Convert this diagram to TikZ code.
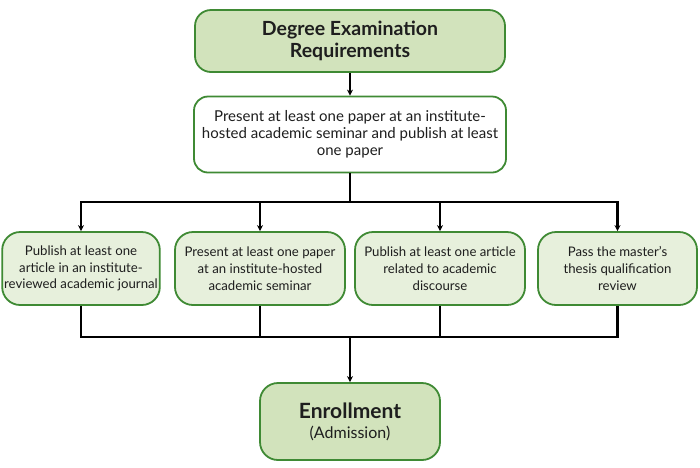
\documentclass[tikz,border=0pt]{standalone}
\usepackage{fontspec}
\setmainfont{Lato}
\usetikzlibrary{arrows.meta}
\definecolor{bordergreen}{HTML}{3F8A34}
\definecolor{darkfill}{HTML}{D2E3BC}
\definecolor{lightfill}{HTML}{E7F0DC}
\definecolor{txt}{HTML}{1E1E1E}
\tikzset{
  box/.style={draw=bordergreen, line width=1.8pt, rounded corners=16pt, align=center, text=txt, inner sep=2pt},
  titlebox/.style={box, fill=darkfill, font=\fontsize{19.5}{22}\selectfont\bfseries},
  midbox/.style={box, fill=white, rounded corners=14pt, font=\fontsize{15}{16.8}\selectfont},
  reqbox/.style={box, fill=lightfill, rounded corners=18pt, font=\fontsize{13.2}{16.7}\selectfont},
  conn/.style={draw=black, line width=2.2pt},
  arr/.style={conn, -{Stealth[length=6pt,width=6pt]}}
}
\begin{document}
\begin{tikzpicture}[x=1pt,y=-1pt]
\useasboundingbox (0,0) rectangle (700,467);
\node[titlebox, minimum width=310pt, minimum height=62pt] (top) at (350,41) {Degree Examination\\Requirements};
\node[midbox, minimum width=312pt, minimum height=76pt] (mid) at (350,134.5) {Present at least one paper at an institute-\\hosted academic seminar and publish at least\\one paper};
\node[reqbox, minimum width=156pt, minimum height=73pt] (b1) at (81,268.5) {Publish at least one\\article in an institute-\\reviewed academic journal};
\node[reqbox, minimum width=170pt, minimum height=73pt] (b2) at (260,268.5) {Present at least one paper\\at an institute-hosted\\academic seminar};
\node[reqbox, minimum width=170pt, minimum height=73pt] (b3) at (440,268.5) {Publish at least one article\\related to academic\\discourse};
\node[reqbox, minimum width=159pt, minimum height=73pt] (b4) at (617.5,268.5) {Pass the master's\\thesis qualification\\review};
\node[box, fill=darkfill, rounded corners=18pt, minimum width=180pt, minimum height=77pt, font=\fontsize{16}{20}\selectfont] (en) at (350,421.5) {{\fontsize{21}{22}\selectfont\bfseries Enrollment}\\(Admission)};
\coordinate (t) at (350,202);
\coordinate (u) at (350,337);
\draw[arr] (top.south) -- (mid.north);
\draw[conn] (mid.south) -- (t);
\draw[arr] (t) -| (b1.north);
\draw[arr] (t) -| (b2.north);
\draw[arr] (t) -| (b3.north);
\draw[arr] (t) -| (b4.north);
\draw[conn] (b1.south) |- (u);
\draw[conn] (b2.south) |- (u);
\draw[conn] (b3.south) |- (u);
\draw[conn] (b4.south) |- (u);
\draw[arr] (u) -- (en.north);
\end{tikzpicture}
\end{document}
